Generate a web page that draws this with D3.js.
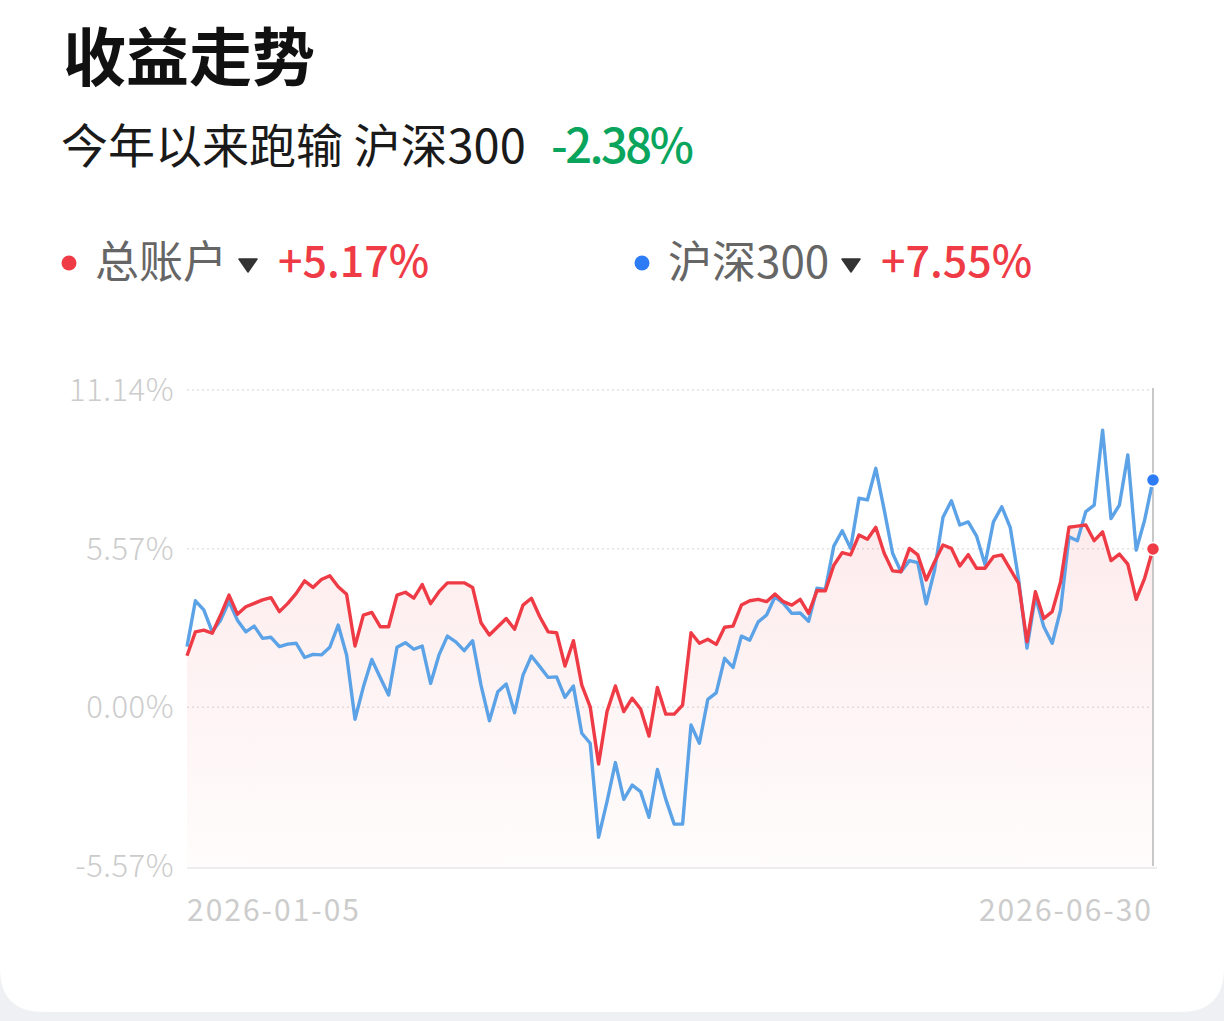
<!DOCTYPE html>
<html>
<head>
<meta charset="utf-8">
<script src="https://cdn.jsdelivr.net/npm/d3@7"></script>
<style>
  html, body { margin: 0; padding: 0; background: #eef0f4; }
  svg { display: block; }
  text { font-family: "Noto Sans CJK SC", "Noto Sans", sans-serif; }
</style>
</head>
<body>
<svg id="chart" width="1224" height="1021"></svg>
<script>
// first and last day of the period, the only labels on the time axis
const axisDates = ["2026-01-05", "2026-06-30"];

// cumulative return in %, one value per trading day
const accountReturns = [
  1.81, 2.65, 2.71, 2.60, 3.24, 3.94, 3.27, 3.53, 3.65, 3.77,
  3.85, 3.36, 3.65, 4.00, 4.44, 4.21, 4.49, 4.62, 4.23, 3.97,
  2.15, 3.24, 3.33, 2.83, 2.83, 3.94, 4.04, 3.83, 4.31, 3.64,
  4.06, 4.37, 4.37, 4.37, 4.21, 2.97, 2.54, 2.83, 3.12, 2.74,
  3.59, 3.83, 3.18, 2.65, 2.62, 1.45, 2.34, 0.78, 0.02, -1.99,
  -0.15, 0.75, -0.15, 0.32, -0.06, -1.01, 0.70, -0.24, -0.24, 0.08,
  2.62, 2.25, 2.39, 2.21, 2.81, 2.85, 3.59, 3.74, 3.79, 3.71,
  3.98, 3.71, 3.59, 3.79, 3.30, 4.10, 4.09, 4.99, 5.43, 5.35,
  6.05, 5.90, 6.32, 5.41, 4.79, 4.76, 5.58, 5.35, 4.47, 5.11,
  5.70, 5.58, 4.96, 5.36, 4.88, 4.88, 5.29, 5.35, 4.85, 4.35,
  2.30, 4.06, 3.12, 3.36, 4.41, 6.32, 6.36, 6.40, 5.85, 6.16,
  5.15, 5.38, 5.03, 3.79, 4.53, 5.56,
];

const hs300Returns = [
  2.13, 3.74, 3.42, 2.65, 3.06, 3.71, 3.06, 2.65, 2.85, 2.42,
  2.46, 2.13, 2.22, 2.25, 1.75, 1.86, 1.84, 2.11, 2.89, 1.84,
  -0.42, 0.72, 1.68, 1.05, 0.43, 2.11, 2.27, 2.04, 2.15, 0.84,
  1.84, 2.50, 2.30, 1.99, 2.34, 0.78, -0.47, 0.55, 0.82, -0.19,
  1.13, 1.80, 1.43, 1.05, 1.07, 0.35, 0.75, -0.91, -1.26, -4.56,
  -3.31, -1.94, -3.23, -2.73, -2.96, -3.86, -2.18, -3.23, -4.10, -4.10,
  -0.62, -1.26, 0.28, 0.51, 1.72, 1.40, 2.50, 2.36, 3.00, 3.24,
  3.88, 3.65, 3.30, 3.31, 3.02, 4.18, 4.14, 5.66, 6.20, 5.58,
  7.34, 7.28, 8.39, 6.93, 5.41, 4.76, 5.15, 5.08, 3.63, 4.82,
  6.67, 7.25, 6.40, 6.51, 6.01, 5.01, 6.51, 7.04, 6.32, 4.50,
  2.08, 3.89, 2.83, 2.25, 3.42, 5.99, 5.85, 6.87, 7.10, 9.73,
  6.63, 7.10, 8.86, 5.52, 6.57, 7.98,
];

const yTicks = [11.14, 5.57, 0.0, -5.57];

const legendNames = ["总账户", "沪深300"];
const legendValues = ["+5.17%", "+7.55%"];

const subtitleText = "今年以来跑输 沪深300";
const subtitleValue = "-2.38%";

const RED = "#ee3b45";
const BLUE = "#5ca2e6";
const BLUE_DOT = "#2d7cf5";
const GREEN = "#0aa55c";

const svg = d3.select("#chart");
const width = 1224;

const plot = { left: 187, right: 1153, top: 390, bottom: 866 };

// card
svg.append("path")
  .attr("fill", "#ffffff")
  .attr("d", roundedBottom(0, -40, width, 1052, 44));

// title block
svg.append("text")
  .attr("x", 63)
  .attr("y", 80)
  .attr("font-size", 63)
  .attr("font-weight", 700)
  .attr("fill", "#111111")
  .text("收益走势");

const subtitle = svg.append("text")
  .attr("y", 163)
  .attr("font-size", 47)
  .attr("fill", "#1a1a1a");
subtitle.append("tspan").attr("x", 61).text(subtitleText);
subtitle.append("tspan")
  .attr("x", 551)
  .attr("fill", GREEN)
  .attr("font-weight", 500)
  .attr("letter-spacing", -2.5)
  .text(subtitleValue);

// legend
const legendX = [69, 642];
const legendDotColors = [RED, BLUE_DOT];
const legendTriangleX = [248, 851];
const legendValueX = [278, 881];

const caret = d3.path();
caret.moveTo(-9, -6);
caret.lineTo(9, -6);
caret.lineTo(0, 7);
caret.closePath();

legendNames.forEach((name, i) => {
  const g = svg.append("g");
  g.append("circle")
    .attr("cx", legendX[i])
    .attr("cy", 263)
    .attr("r", 7.5)
    .attr("fill", legendDotColors[i]);
  g.append("text")
    .attr("x", legendX[i] + 26)
    .attr("y", 278)
    .attr("font-size", 44)
    .attr("fill", "#666666")
    .text(name);
  g.append("path")
    .attr("transform", `translate(${legendTriangleX[i]},265)`)
    .attr("d", caret.toString())
    .attr("fill", "#333333")
    .attr("stroke", "#333333")
    .attr("stroke-width", 1.5)
    .attr("stroke-linejoin", "round");
  g.append("text")
    .attr("x", legendValueX[i])
    .attr("y", 277)
    .attr("font-size", 43)
    .attr("font-weight", 500)
    .attr("fill", RED)
    .text(legendValues[i]);
});

// scales
const x = d3.scaleLinear()
  .domain([0, accountReturns.length - 1])
  .range([plot.left, plot.right]);

const y = d3.scaleLinear()
  .domain([-5.57, 11.14])
  .range([plot.bottom, plot.top]);

// grid lines
svg.append("g")
  .selectAll("line")
  .data(yTicks.slice(0, 3))
  .join("line")
  .attr("x1", plot.left)
  .attr("x2", plot.right + 4)
  .attr("y1", (d) => y(d))
  .attr("y2", (d) => y(d))
  .attr("stroke", "#e2e2e2")
  .attr("stroke-width", 1.5)
  .attr("stroke-dasharray", "2 3");

svg.append("line")
  .attr("x1", plot.left)
  .attr("x2", plot.right + 4)
  .attr("y1", y(-5.57) + 2)
  .attr("y2", y(-5.57) + 2)
  .attr("stroke", "#eeeeee")
  .attr("stroke-width", 2);

// y tick labels
svg.append("g")
  .selectAll("text")
  .data(yTicks)
  .join("text")
  .attr("x", 174)
  .attr("y", (d) => y(d))
  .attr("dy", "0.36em")
  .attr("text-anchor", "end")
  .attr("font-size", 31)
  .attr("fill", "#cccccc")
  .attr("font-family", "Roboto, 'Noto Sans', sans-serif")
  .attr("font-weight", 300)
  .attr("letter-spacing", 0.5)
  .text((d) => `${d.toFixed(2)}%`);

// x labels
svg.append("g")
  .selectAll("text")
  .data(axisDates)
  .join("text")
  .attr("x", (_d, i) => (i === 0 ? plot.left : plot.right))
  .attr("y", 921)
  .attr("text-anchor", (_d, i) => (i === 0 ? "start" : "end"))
  .attr("font-size", 30)
  .attr("fill", "#cccccc")
  .attr("font-family", "Roboto, 'Noto Sans', sans-serif")
  .attr("letter-spacing", 2)
  .text((d) => d);

// area under account line
const defs = svg.append("defs");
const gradient = defs.append("linearGradient")
  .attr("id", "area-fill")
  .attr("x1", 0).attr("y1", 0)
  .attr("x2", 0).attr("y2", 1);
gradient.append("stop").attr("offset", "0%").attr("stop-color", RED).attr("stop-opacity", 0.1);
gradient.append("stop").attr("offset", "100%").attr("stop-color", RED).attr("stop-opacity", 0.015);

const area = d3.area()
  .x((_d, i) => x(i))
  .y0(y(-5.57) + 2)
  .y1((d) => y(d));

svg.append("path")
  .datum(accountReturns)
  .attr("fill", "url(#area-fill)")
  .attr("d", area);

// crosshair at the last day
svg.append("line")
  .attr("x1", x(accountReturns.length - 1))
  .attr("x2", x(accountReturns.length - 1))
  .attr("y1", plot.top - 2)
  .attr("y2", plot.bottom)
  .attr("stroke", "#c8c8c8")
  .attr("stroke-width", 2);

const line = d3.line()
  .x((_d, i) => x(i))
  .y((d) => y(d));

svg.append("path")
  .datum(hs300Returns)
  .attr("fill", "none")
  .attr("stroke", BLUE)
  .attr("stroke-width", 3.4)
  .attr("stroke-linejoin", "round")
  .attr("d", line);

svg.append("path")
  .datum(accountReturns)
  .attr("fill", "none")
  .attr("stroke", RED)
  .attr("stroke-width", 3.4)
  .attr("stroke-linejoin", "round")
  .attr("d", line);

// end markers
const last = accountReturns.length - 1;
[[hs300Returns, BLUE_DOT], [accountReturns, RED]].forEach(([series, color]) => {
  svg.append("circle")
    .attr("cx", x(last))
    .attr("cy", y(series[last]))
    .attr("r", 6.5)
    .attr("fill", color)
    .attr("stroke", "#ffffff")
    .attr("stroke-width", 1.5);
});

function roundedBottom(x0, y0, w, h, r) {
  const x1 = x0 + w;
  const y1 = y0 + h;
  return `M${x0},${y0}H${x1}V${y1 - r}Q${x1},${y1} ${x1 - r},${y1}H${x0 + r}Q${x0},${y1} ${x0},${y1 - r}Z`;
}
</script>
</body>
</html>
